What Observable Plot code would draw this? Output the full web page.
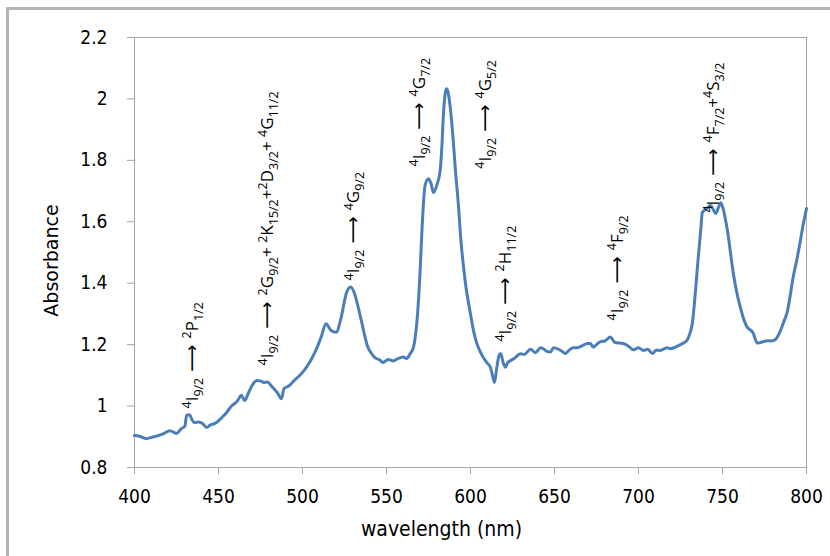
<!DOCTYPE html>
<html>
<head>
<meta charset="utf-8">
<script src="https://cdn.jsdelivr.net/npm/d3@7"></script>
<script src="https://cdn.jsdelivr.net/npm/@observablehq/plot@0.6"></script>
<style>
  body { margin: 0; background: #fff; }
  #wrap { position: relative; width: 830px; height: 556px; overflow: hidden; background: #fff; }
  #edge { position: absolute; left: 6px; top: 7px; width: 900px; height: 700px;
          border-left: 3px solid #b4b4b4; border-top: 3px solid #b4b4b4; }
  #chart { position: absolute; left: 0; top: 0; }
  #chart svg g[aria-label="x-axis tick"], #chart svg g[aria-label="y-axis tick"] { stroke: #a6a6a6; }
  #chart svg g[aria-label="x-axis"] line, #chart svg g[aria-label="y-axis"] line { stroke: #a6a6a6; }
  #chart svg g[aria-label="y-axis label"] { font-family: 'DejaVu Sans', sans-serif; font-size: 19px; }
  #chart svg g[aria-label="x-axis label"] { font-size: 21px; }
</style>
</head>
<body>
<div id="wrap"><div id="edge"></div><div id="chart"></div></div>
<script>
// Absorption spectrum: wavelength (nm) and absorbance
const wavelength = [
  400, 403, 407, 410, 414, 418, 421, 425, 428, 430, 431, 432.7, 434, 435.7, 438, 440.5, 443, 445, 447.6, 450,
  452, 455, 457.7, 459.5, 461, 463.7, 465.5, 468, 470, 473, 475, 477, 479, 482, 485, 487.5, 489, 492, 495, 498,
  501, 504, 507, 509, 511, 514, 517, 520, 523, 526, 528.6, 531, 533, 535, 537, 538.7, 541, 543, 546, 548,
  551, 554, 557, 560, 562, 564, 566, 567, 568.5, 570, 571, 572, 573, 575, 576.5, 578, 580, 582, 583, 584,
  585, 585.7, 586.5, 588, 589.5, 591, 593, 594, 597, 600, 602, 604, 606, 608, 610, 612, 613.3, 614.3, 615.5, 617,
  618, 619.5, 620.8, 622, 623.8, 626, 629.8, 632, 635.7, 638.7, 641.7, 643.5, 645.5, 647.6, 649.4, 651, 654, 656.5, 658, 661,
  663.7, 666, 669.6, 671.4, 673, 675, 677.4, 680, 683.3, 686, 689.3, 691, 694, 697, 700, 703, 705.5, 708.3, 710.5, 713,
  717, 719, 722, 725, 727, 729, 730.5, 732, 734, 735.5, 737, 738, 740, 743, 744.5, 746, 747.5, 749, 750.5, 752,
  753, 754.5, 756.5, 758.5, 760.7, 762.5, 764.8, 766.5, 768, 770.8, 773, 776.8, 779, 781.5, 783, 784.5, 786.5, 788.7, 790, 792,
  794, 796.4, 798, 800
];
const absorbance = [
  0.904, 0.902, 0.894, 0.898, 0.904, 0.912, 0.920, 0.911, 0.927, 0.935, 0.970, 0.972, 0.958, 0.946, 0.948, 0.943, 0.930, 0.938, 0.943, 0.952,
  0.963, 0.980, 1.000, 1.008, 1.015, 1.035, 1.018, 1.045, 1.067, 1.083, 1.082, 1.077, 1.078, 1.062, 1.044, 1.024, 1.057, 1.066, 1.083, 1.098,
  1.116, 1.140, 1.171, 1.195, 1.223, 1.268, 1.246, 1.240, 1.288, 1.366, 1.388, 1.366, 1.325, 1.279, 1.230, 1.195, 1.172, 1.158, 1.150, 1.142,
  1.152, 1.147, 1.155, 1.160, 1.155, 1.170, 1.190, 1.220, 1.300, 1.440, 1.560, 1.660, 1.720, 1.740, 1.725, 1.695, 1.720, 1.770, 1.850, 1.960,
  2.020, 2.033, 2.025, 1.970, 1.880, 1.770, 1.640, 1.560, 1.400, 1.300, 1.240, 1.200, 1.175, 1.155, 1.140, 1.124, 1.095, 1.077, 1.120, 1.165,
  1.171, 1.140, 1.126, 1.140, 1.148, 1.155, 1.170, 1.168, 1.185, 1.174, 1.190, 1.186, 1.178, 1.176, 1.190, 1.188, 1.180, 1.171, 1.178, 1.190,
  1.190, 1.195, 1.204, 1.204, 1.192, 1.200, 1.210, 1.212, 1.225, 1.207, 1.205, 1.204, 1.195, 1.183, 1.190, 1.181, 1.185, 1.171, 1.182, 1.181,
  1.190, 1.187, 1.192, 1.200, 1.206, 1.215, 1.235, 1.268, 1.380, 1.480, 1.570, 1.630, 1.640, 1.653, 1.640, 1.627, 1.645, 1.662, 1.640, 1.600,
  1.570, 1.510, 1.430, 1.370, 1.320, 1.285, 1.256, 1.248, 1.240, 1.205, 1.208, 1.213, 1.212, 1.217, 1.228, 1.246, 1.275, 1.310, 1.350, 1.418,
  1.470, 1.540, 1.590, 1.643
];

// Axis ticks
const xTicks = [400, 450, 500, 550, 600, 650, 700, 750, 800];
const yTicks = [0.8, 1, 1.2, 1.4, 1.6, 1.8, 2, 2.2];

// Transition labels: {^..} superscript, {_..} subscript
const transitionText = [
  "{^4}I{_9/2} ⟶ {^2}P{_1/2}",
  "{^4}I{_9/2} ⟶ {^2}G{_9/2}+ {^2}K{_15/2}+{^2}D{_3/2}+ {^4}G{_11/2}",
  "{^4}I{_9/2} ⟶ {^4}G{_9/2}",
  "{^4}I{_9/2} ⟶ {^4}G{_7/2}",
  "{^4}I{_9/2} ⟶ {^4}G{_5/2}",
  "{^4}I{_9/2} ⟶ {^2}H{_11/2}",
  "{^4}I{_9/2} ⟶ {^4}F{_9/2}",
  "{^4}I{_9/2} ⟶ {^4}F{_7/2}+{^4}S{_3/2}"
];
const transitionWavelength = [434.5, 479.2, 530.4, 569.6, 608.9, 620.8, 687.5, 744.6];
const transitionAbsorbance = [0.992, 1.132, 1.409, 1.780, 1.773, 1.210, 1.279, 1.630];

const spectrum = wavelength.map((w, i) => ({w, a: absorbance[i]}));
const transitions = transitionText.map((t, i) => ({t, w: transitionWavelength[i], a: transitionAbsorbance[i]}));

const axisFont = "'DejaVu Sans Condensed', 'Liberation Sans Narrow', 'Liberation Sans', sans-serif";
const labelFont = "'Open Sans', 'Noto Sans', sans-serif";

const chart = Plot.plot({
  width: 830,
  height: 556,
  marginLeft: 134,
  marginRight: 24,
  marginTop: 37,
  marginBottom: 89,
  style: {fontFamily: axisFont, fontSize: "19px", color: "#000", background: "transparent", overflow: "visible"},
  x: {domain: [400, 800], ticks: xTicks, tickSize: 7, tickPadding: 15, tickFormat: d => `${d}`,
      label: "wavelength (nm)", labelArrow: "none", labelAnchor: "center", labelOffset: 68},
  y: {domain: [0.8, 2.2], ticks: yTicks, tickSize: 7, tickPadding: 20, tickFormat: d => `${d}`,
      label: "Absorbance", labelArrow: "none", labelAnchor: "center", labelOffset: 90},
  marks: [
    Plot.frame({stroke: "#a6a6a6"}),
    Plot.line(spectrum, {x: "w", y: "a", stroke: "#4a7ebb", strokeWidth: 3, curve: "monotone-x"}),
    Plot.text(transitions, {x: "w", y: "a", text: "t", rotate: -90, textAnchor: "start",
      fontSize: 17, fontFamily: labelFont, fill: "#000"})
  ]
});

// Axis labels are plain words; the x title sits a little left of centre, the y title a little low
chart.querySelectorAll('g[aria-label$="axis label"] text').forEach(el => {
  el.textContent = el.textContent.replace(/[↑→←↓]/g, "").trim();
});
chart.querySelectorAll('g[aria-label="x-axis label"] text').forEach(el => el.setAttribute("dx", -29));
chart.querySelectorAll('g[aria-label="y-axis label"] text').forEach(el => el.setAttribute("dx", -8));

// Turn the {^..}/{_..} markup into superscript and subscript tspans
const SVGNS = "http://www.w3.org/2000/svg";
function richText(el) {
  const src = el.textContent;
  el.textContent = "";
  const re = /\{([\^_])([^}]*)\}|( ⟶ )|([^{⟶]+)/g;
  let m, shift = 0;
  while ((m = re.exec(src))) {
    const t = document.createElementNS(SVGNS, "tspan");
    let target = 0;
    if (m[1] === "^") { target = -6.5; t.setAttribute("font-size", 12.5); t.textContent = m[2]; }
    else if (m[1] === "_") { target = 5; t.setAttribute("font-size", 12.5); t.textContent = m[2]; }
    else if (m[3]) {
      t.setAttribute("font-family", "'DejaVu Sans'");
      t.setAttribute("font-size", 19);
      t.textContent = "\u00a0⟶\u00a0";
    }
    else t.textContent = m[4];
    if (target !== shift) t.setAttribute("dy", target - shift);
    shift = target;
    el.appendChild(t);
  }
}
chart.querySelectorAll('g[aria-label="text"] text').forEach(richText);

document.getElementById("chart").appendChild(chart);
</script>
</body>
</html>
